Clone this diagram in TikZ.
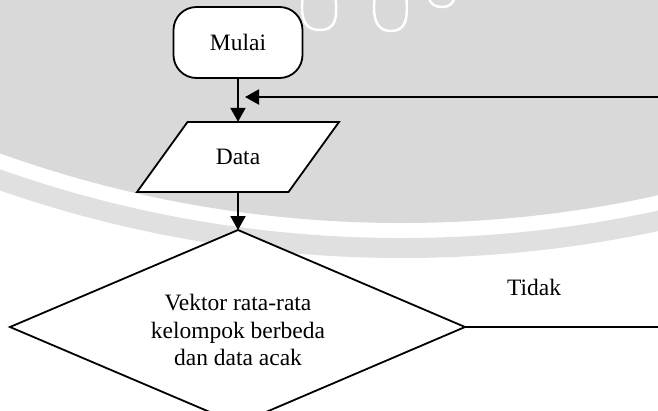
\documentclass[tikz,border=0pt]{standalone}
\usepackage{fontspec}
\setmainfont{Liberation Serif}
\usetikzlibrary{arrows.meta,calc}
\definecolor{wmgray}{HTML}{D9D9D9}
\definecolor{ringgray}{HTML}{E0E0E0}
\tikzset{
  flow/.style={draw=black, line width=1.8pt, fill=white},
  lbl/.style={font=\fontsize{23.5}{27.5}\selectfont, align=center, inner sep=0pt},
  arr/.style={line width=2pt, -{Triangle[length=14pt,width=15pt]}},
  plain/.style={line width=2pt},
}
\begin{document}
\begin{tikzpicture}[x=1pt,y=-1pt]
\useasboundingbox (0,0) rectangle (658,410);
% background watermark
\begin{scope}
\clip (0,0) rectangle (658,410);
\fill[white] (0,0) rectangle (658,410);
\fill[wmgray] (401.7,-964.5) circle (1187.5pt);
\draw[ringgray, line width=20pt] (401.7,-964.5) circle (1212.5pt);
\draw[white, line width=2.5pt] (303,-5) .. controls (299,24) and (308,30) .. (320,30) .. controls (333,30) and (339,22) .. (335,-5);
\draw[white, line width=2.5pt] (375,-5) .. controls (371,24) and (380,31) .. (391,31) .. controls (404,31) and (409,22) .. (406,-5);
\draw[white, line width=2.5pt] (428,-5) .. controls (430,5) and (436,7) .. (442,7) .. controls (450,7) and (454,3) .. (455,-5);
\end{scope}
% Mulai
\node[flow, rounded corners=23pt, minimum width=129pt, minimum height=71pt, lbl] (start) at (238,42.5) {Mulai};
% Data (parallelogram)
\draw[flow] (187.5,122) -- (339,122) -- (288.5,192) -- (137,192) -- cycle;
\node[lbl, minimum width=152pt, minimum height=70pt] (data) at (238,157) {Data};
% Decision diamond
\coordinate (dT) at (238,230);
\coordinate (dR) at (465,327);
\coordinate (dB) at (238,424);
\coordinate (dL) at (10,327);
\draw[flow] (dT) -- (dR) -- (dB) -- (dL) -- cycle;
\node[lbl] (q) at (238,330) {Vektor rata-rata\\kelompok berbeda\\dan data acak};
% connectors
\draw[arr] (start.south) -- (data.north);
\draw[arr] (data.south) -- (dT);
\coordinate (join) at (238,97);
\coordinate (fb) at (658,97);
\draw[arr] (fb) -- ([xshift=7pt]join);
\coordinate (out) at (658,327);
\draw[plain] (dR) -- (out);
\node[lbl] (tidak) at (534,287) {Tidak};
\end{tikzpicture}
\end{document}
